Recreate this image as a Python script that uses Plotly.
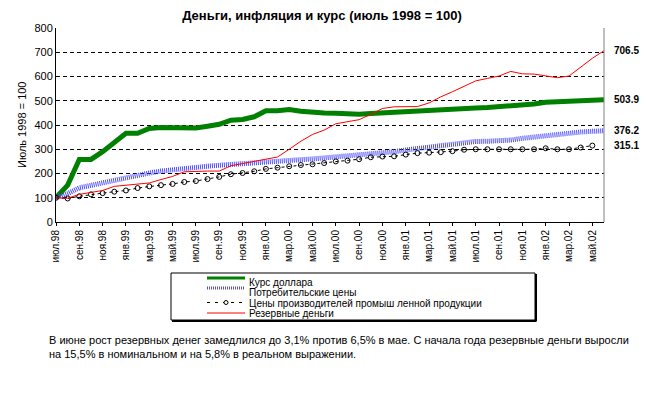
import plotly.graph_objects as go

months = ["июл.98","авг.98","сен.98","окт.98","ноя.98","дек.98",
          "янв.99","фев.99","мар.99","апр.99","май.99","июн.99","июл.99","авг.99","сен.99","окт.99","ноя.99","дек.99",
          "янв.00","фев.00","мар.00","апр.00","май.00","июн.00","июл.00","авг.00","сен.00","окт.00","ноя.00","дек.00",
          "янв.01","фев.01","мар.01","апр.01","май.01","июн.01","июл.01","авг.01","сен.01","окт.01","ноя.01","дек.01",
          "янв.02","фев.02","мар.02","апр.02","май.02","июн.02"]
tick_labels = months[::2]

dollar = [100,152,258,258,290,331,366,366,386,390,390,390,
          388,395,403,420,423,434,459,459,464,457,452,450,
          448,444,444,447,450,451,457,459,461,463,466,469,
          470,472,475,477,481,487,494,497,498,500,502,503.9]
cpi = [100,117,141,151,161,172,186,195,202,210,216,221,
       226,230,234,238,241,245,249,252,254,257,260,264,
       268,271,275,281,285,290,297,303,310,317,322,328,
       332,333,334,338,345,351,358,363,367,371,374,376.2]
ppi = [100,97,106,114,119,125,130,140,147,152,157,165,
       169,177,186,197,202,209,219,224,230,235,238,243,
       250,253,259,267,270,271,278,284,286,288,292,298,
       300,300,300,300,300,300,304,300,300,307,315.1,None]
reserve = [100,98,114,123,130,147,151,154,161,175,188,207,
           210,210,210,232,241,250,256,268,300,333,361,379,
           405,414,422,444,468,475,475,476,491,516,537,560,
           582,592,602,621,611,610,604,595,602,640,675,706.5]

names = ["Курс доллара", "Потребительские цены",
         "Цены производителей промыш ленной продукции", "Резервные деньги"]

FONT = "Liberation Sans, Arial, sans-serif"
W, H = 646, 398
L, R, T, B = 56, 604, 28, 222
BLUE = "#4d4dff"

def px(x):
    return (x - L) / (R - L)

def py(y):
    return (B - y) / (B - T)

fig = go.Figure()
fig.add_trace(go.Scatter(x=months, y=dollar, mode="lines", name=names[0],
                         line=dict(color="#008000", width=5)))
fig.add_trace(go.Scatter(x=months, y=cpi, mode="lines", name=names[1],
                         line=dict(color=BLUE, width=5, dash="1px,1px")))
fig.add_trace(go.Scatter(x=months, y=ppi, mode="lines+markers", name=names[2],
                         line=dict(color="black", width=1, dash="3px,3px"),
                         marker=dict(symbol="circle-open", size=5, color="black",
                                     line=dict(width=1, color="black"))))
fig.add_trace(go.Scatter(x=months, y=reserve, mode="lines", name=names[3],
                         line=dict(color="#ff0000", width=1)))

last_vals = [reserve[-1], dollar[-1], cpi[-1], [v for v in ppi if v is not None][-1]]
ann = []
for v in last_vals:
    ann.append(dict(x=px(612), y=v, xref="paper", yref="y", xanchor="left",
                    yanchor="middle", showarrow=False, text=f"<b>{v:.1f}</b>",
                    font=dict(family=FONT, size=10, color="black")))

ann.append(dict(x=px(14), y=py(125), xref="paper", yref="paper", textangle=-90,
                showarrow=False, text="Июль 1998 = 100",
                font=dict(family=FONT, size=11, color="black")))

# manual legend
shapes = []
leg_rows = [278, 288, 302.5, 313]
txt_rows = [282, 292.5, 303, 313.5]
shapes.append(dict(type="rect", xref="paper", yref="paper", x0=px(171), x1=px(535),
                   y0=py(320), y1=py(273), line=dict(color="black", width=1)))
shapes.append(dict(type="line", xref="paper", yref="paper", x0=px(172), x1=px(536.5),
                   y0=py(321), y1=py(321), line=dict(color="black", width=2)))
shapes.append(dict(type="line", xref="paper", yref="paper", x0=px(536), x1=px(536),
                   y0=py(274), y1=py(321), line=dict(color="black", width=2)))
shapes.append(dict(type="line", xref="paper", yref="paper", x0=px(207), x1=px(245),
                   y0=py(leg_rows[0]), y1=py(leg_rows[0]), line=dict(color="#008000", width=3)))
shapes.append(dict(type="line", xref="paper", yref="paper", x0=px(207), x1=px(245),
                   y0=py(leg_rows[1]), y1=py(leg_rows[1]), line=dict(color=BLUE, width=3, dash="1px,1px")))
shapes.append(dict(type="line", xref="paper", yref="paper", x0=px(207), x1=px(245),
                   y0=py(leg_rows[2]), y1=py(leg_rows[2]), line=dict(color="black", width=1, dash="3px,5px")))
shapes.append(dict(type="circle", xref="paper", yref="paper", x0=px(224), x1=px(228),
                   y0=py(leg_rows[2] + 2), y1=py(leg_rows[2] - 2), fillcolor="white",
                   line=dict(color="black", width=1)))
shapes.append(dict(type="line", xref="paper", yref="paper", x0=px(207), x1=px(245),
                   y0=py(leg_rows[3]), y1=py(leg_rows[3]), line=dict(color="#ff0000", width=1)))
for n, yy in zip(names, txt_rows):
    ann.append(dict(x=px(247), y=py(yy), xref="paper", yref="paper", xanchor="left",
                    yanchor="middle", showarrow=False, text=n,
                    font=dict(family=FONT, size=10, color="black")))

# right border of plot area
shapes.append(dict(type="line", xref="paper", yref="paper", x0=1, x1=1, y0=0, y1=1,
                   line=dict(color="#808080", width=1)))

note1 = "В июне рост резервных денег замедлился до 3,1% против 6,5% в мае. С начала года резервные деньги выросли"
note2 = "на 15,5% в номинальном и на 5,8% в реальном выражении."
ann.append(dict(x=px(47), y=py(340), xref="paper", yref="paper", xanchor="left", yanchor="middle",
                showarrow=False, text=note1, font=dict(family=FONT, size=11, color="black")))
ann.append(dict(x=px(47), y=py(353.5), xref="paper", yref="paper", xanchor="left", yanchor="middle",
                showarrow=False, text=note2, font=dict(family=FONT, size=11, color="black")))

fig.update_layout(
    width=W, height=H,
    margin=dict(l=L, r=W - R, t=T, b=H - B, pad=0),
    paper_bgcolor="white", plot_bgcolor="white",
    showlegend=False,
    hovermode=False,
    title=dict(text="<b>Деньги, инфляция и курс (июль 1998 = 100)</b>",
               x=322 / W, xanchor="center", y=1 - 15 / H, yanchor="middle",
               yref="container", font=dict(family=FONT, size=13, color="black")),
    xaxis=dict(type="category", range=[0, len(months) - 1], tickmode="array",
               tickvals=tick_labels, ticktext=tick_labels, tickangle=-90,
               ticks="outside", ticklen=3, tickcolor="black",
               showline=True, linecolor="black", linewidth=1, showgrid=False,
               zeroline=False, tickfont=dict(family=FONT, size=10, color="black")),
    yaxis=dict(range=[0, 800], dtick=100, showline=True, linecolor="black", linewidth=1,
               showgrid=True, gridcolor="black", gridwidth=1, griddash="4px,3px",
               zeroline=False, ticks="", tickfont=dict(family=FONT, size=11, color="black")),
    annotations=ann,
    shapes=shapes,
)

fig.write_html("out.html", config={"displayModeBar": False, "staticPlot": True},
               post_script="document.body.style.margin='0';document.body.style.padding='0';")
